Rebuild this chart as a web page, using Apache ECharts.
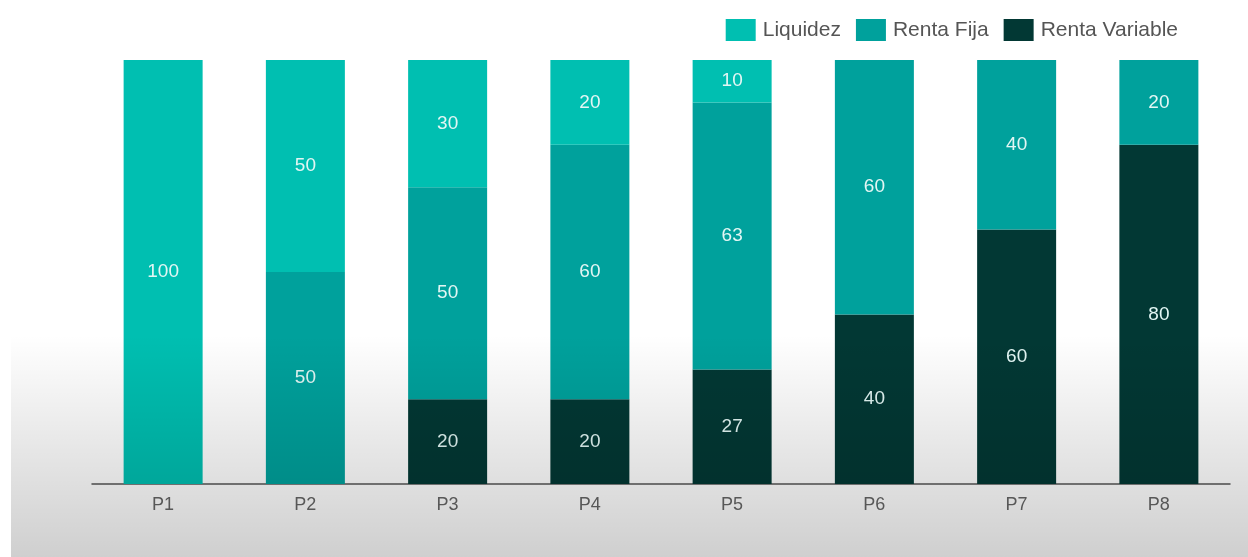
<!DOCTYPE html>
<html>
<head>
<meta charset="utf-8">
<script src="https://cdn.jsdelivr.net/npm/echarts@6/dist/echarts.min.js"></script>
<style>
html,body{margin:0;padding:0;background:#fff;}
#c{width:1248px;height:557px;}
</style>
</head>
<body>
<div id="c"></div>
<script>
const categories = ['P1','P2','P3','P4','P5','P6','P7','P8'];
const liquidez = [100, 50, 30, 20, 10, 0, 0, 0];
const rentaFija = [0, 50, 50, 60, 63, 60, 40, 20];
const rentaVariable = [0, 0, 20, 20, 27, 40, 60, 80];

const chart = echarts.init(document.getElementById('c'), null, {renderer:'canvas'});
const labelStyle = {
  show: true, position: 'inside', color: '#e2f6f4',
  fontFamily: 'Liberation Sans, Arial, sans-serif', fontSize: 19,
  formatter: p => p.value ? p.value : ''
};
function ser(name, data, color){
  return {
    name, type: 'bar', stack: 'total', data, barWidth: 79,
    itemStyle: {color}, label: labelStyle, emphasis: {disabled: true}
  };
}
chart.setOption({
  animation: false,
  backgroundColor: '#ffffff',
  grid: {left: 92, right: 18, top: 60, bottom: 73},
  legend: {
    top: 14, right: 65, itemWidth: 30, itemHeight: 22, itemGap: 15,
    icon: 'rect',
    textStyle: {fontFamily: 'Liberation Sans, Arial, sans-serif', fontSize: 21, color: '#555', padding: [0, 0, 0, 2]},
    data: ['Liquidez','Renta Fija','Renta Variable']
  },
  xAxis: {
    type: 'category', data: categories,
    axisLine: {lineStyle: {color: '#555', width: 1.5}},
    axisTick: {show: false},
    axisLabel: {fontFamily: 'Liberation Sans, Arial, sans-serif', fontSize: 18, color: '#666', margin: 12}
  },
  yAxis: {type: 'value', min: 0, max: 100, show: false, splitLine: {show: false}},
  series: [
    ser('Renta Variable', rentaVariable, '#023834'),
    ser('Renta Fija', rentaFija, '#00a19c'),
    ser('Liquidez', liquidez, '#00bfb1')
  ],
  graphic: [{
    type: 'rect', silent: true, z: 100,
    shape: {x: 11, y: 335, width: 1237, height: 222},
    style: {
      fill: new echarts.graphic.LinearGradient(0, 0, 0, 1, [
        {offset: 0, color: 'rgba(0,0,0,0)'},
        {offset: 1, color: 'rgba(0,0,0,0.19)'}
      ])
    }
  }]
});
</script>
</body>
</html>
